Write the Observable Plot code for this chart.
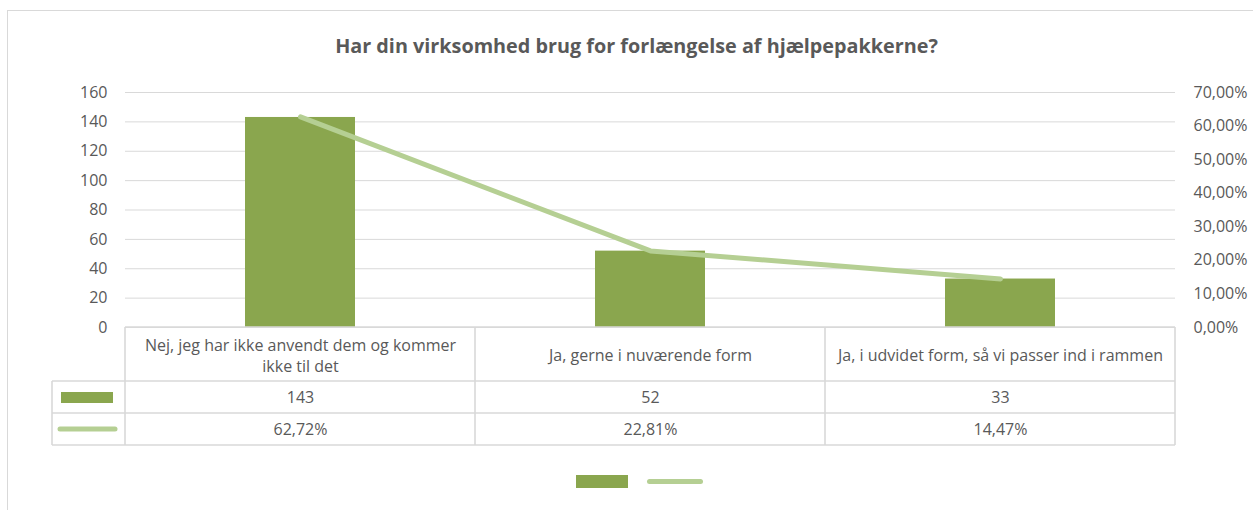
<!DOCTYPE html>
<html>
<head>
<meta charset="utf-8">
<script src="https://cdn.jsdelivr.net/npm/d3@7"></script>
<script src="https://cdn.jsdelivr.net/npm/@observablehq/plot@0.6"></script>
<style>
  body { margin: 0; background: #fff; font-family: "Open Sans", sans-serif; }
  #wrap { position: relative; width: 1253px; height: 510px; overflow: hidden; background: #fff; }
  #frame { position: absolute; left: 7px; top: 10px; width: 1300px; height: 600px;
           border-left: 1.5px solid #d9d9d9; border-top: 1.5px solid #d9d9d9; }
  #chart { position: absolute; left: 0; top: 0; }
  #title { position: absolute; left: 0; top: 31px; width: 1273px; text-align: center;
           font-weight: bold; font-size: 19.8px; color: #595959; line-height: 30px; }
  .sw { position: absolute; }
</style>
</head>
<body>
<div id="wrap">
  <div id="frame"></div>
  <div id="chart"></div>
  <div id="title">Har din virksomhed brug for forlængelse af hjælpepakkerne?</div>
  <div class="sw" id="legBar" style="left:576px;top:475px;width:52px;height:13px;"></div>
  <div class="sw" id="legLine" style="left:647px;top:478.5px;width:56px;height:5px;border-radius:3px;"></div>
</div>
<script>
// ---- data ----
const categories = [
  "Nej, jeg har ikke anvendt dem og kommer ikke til det",
  "Ja, gerne i nuværende form",
  "Ja, i udvidet form, så vi passer ind i rammen"
];
const counts = [143, 52, 33];
const percents = [62.72, 22.81, 14.47];
const leftTicks = [0, 20, 40, 60, 80, 100, 120, 140, 160];
const rightTicks = [0, 10, 20, 30, 40, 50, 60, 70];

// ---- styles ----
const barColor = "#8aa64e";
const lineColor = "#b5cf93";
const gridColor = "#d9d9d9";
const textColor = "#595959";
const fontSize = 16;
const fontFamily = "Open Sans";

document.getElementById("legBar").style.background = barColor;
document.getElementById("legLine").style.background = lineColor;

const yMax = leftTicks[leftTicks.length - 1];
const pMax = rightTicks[rightTicks.length - 1];
const k = yMax / pMax;
const fmtPct = v => (Math.round(v * 100) / 100).toFixed(2).replace(".", ",") + "%";

const data = categories.map((c, i) => ({cat: c, count: counts[i], pct: percents[i]}));

// wrap text by measured width
const ctx = document.createElement("canvas").getContext("2d");
ctx.font = `${fontSize}px "${fontFamily}"`;
function wrap(str, maxW) {
  const words = str.split(" ");
  const lines = [];
  let cur = "";
  for (const w of words) {
    const t = cur ? cur + " " + w : w;
    if (ctx.measureText(t).width > maxW && cur) { lines.push(cur); cur = w; }
    else cur = t;
  }
  if (cur) lines.push(cur);
  return lines.join("\n");
}

const W = 1253, H = 510;
const mL = 125, mR = 78, mT = 92, mB = 183;
const bandW = (W - mL - mR) / categories.length;

const plot = Plot.plot({
  width: W, height: H,
  marginLeft: mL, marginRight: mR, marginTop: mT, marginBottom: mB,
  style: {fontFamily: fontFamily, fontSize: fontSize + "px", color: textColor, background: "transparent", overflow: "visible"},
  x: {domain: categories, padding: 0, axis: null},
  y: {domain: [0, yMax], axis: null},
  marks: [
    Plot.ruleY(leftTicks, {stroke: gridColor, strokeWidth: 1}),
    Plot.barY(data, {x: "cat", y: "count", fill: barColor, insetLeft: 120, insetRight: 120}),
    Plot.line(data, {x: "cat", y: d => d.pct * k, stroke: lineColor, strokeWidth: 5, strokeLinecap: "round"}),
    Plot.axisY({ticks: leftTicks, tickSize: 0, tickPadding: 18, label: null, fill: textColor}),
    Plot.axisY({anchor: "right", ticks: rightTicks.map(p => p * k), tickFormat: v => fmtPct(v / k),
                tickSize: 0, tickPadding: 18, label: null, fill: textColor}),
    Plot.text(data, {x: "cat", text: d => wrap(d.cat, bandW - 14), frameAnchor: "bottom", dy: 27,
                     lineAnchor: "middle", lineHeight: 1.35, fill: textColor}),
    Plot.text(data, {x: "cat", text: d => String(d.count), frameAnchor: "bottom", dy: 70,
                     lineAnchor: "middle", fill: textColor}),
    Plot.text(data, {x: "cat", text: d => fmtPct(d.pct), frameAnchor: "bottom", dy: 102.5,
                     lineAnchor: "middle", fill: textColor})
  ]
});
document.getElementById("chart").appendChild(plot);

// ---- data table grid (columns from the x scale) ----
const xs = plot.scale("x");
const edges = categories.map(c => xs.apply(c));
edges.push(edges[edges.length - 1] + xs.bandwidth);
const svg = d3.select(plot);
const g = svg.append("g").attr("stroke", gridColor).attr("stroke-width", 1.6).attr("fill", "none");
const y0 = H - mB;              // table top = baseline
const rowY = [y0 + 54, y0 + 86, y0 + 118];
const keyLeft = 52;
const right = edges[edges.length - 1];
g.append("line").attr("x1", edges[0]).attr("x2", right).attr("y1", y0).attr("y2", y0);
rowY.forEach(y => g.append("line").attr("x1", keyLeft).attr("x2", right).attr("y1", y).attr("y2", y));
edges.forEach(x => g.append("line").attr("x1", x).attr("x2", x).attr("y1", y0).attr("y2", rowY[2]));
g.append("line").attr("x1", keyLeft).attr("x2", keyLeft).attr("y1", rowY[0]).attr("y2", rowY[2]);
// legend keys in table
svg.append("rect").attr("x", keyLeft + 9).attr("y", rowY[0] + 11).attr("width", 52).attr("height", 11).attr("fill", barColor);
svg.append("line").attr("x1", keyLeft + 8).attr("x2", keyLeft + 63)
  .attr("y1", rowY[1] + 16).attr("y2", rowY[1] + 16)
  .attr("stroke", lineColor).attr("stroke-width", 5).attr("stroke-linecap", "round");
</script>
</body>
</html>
